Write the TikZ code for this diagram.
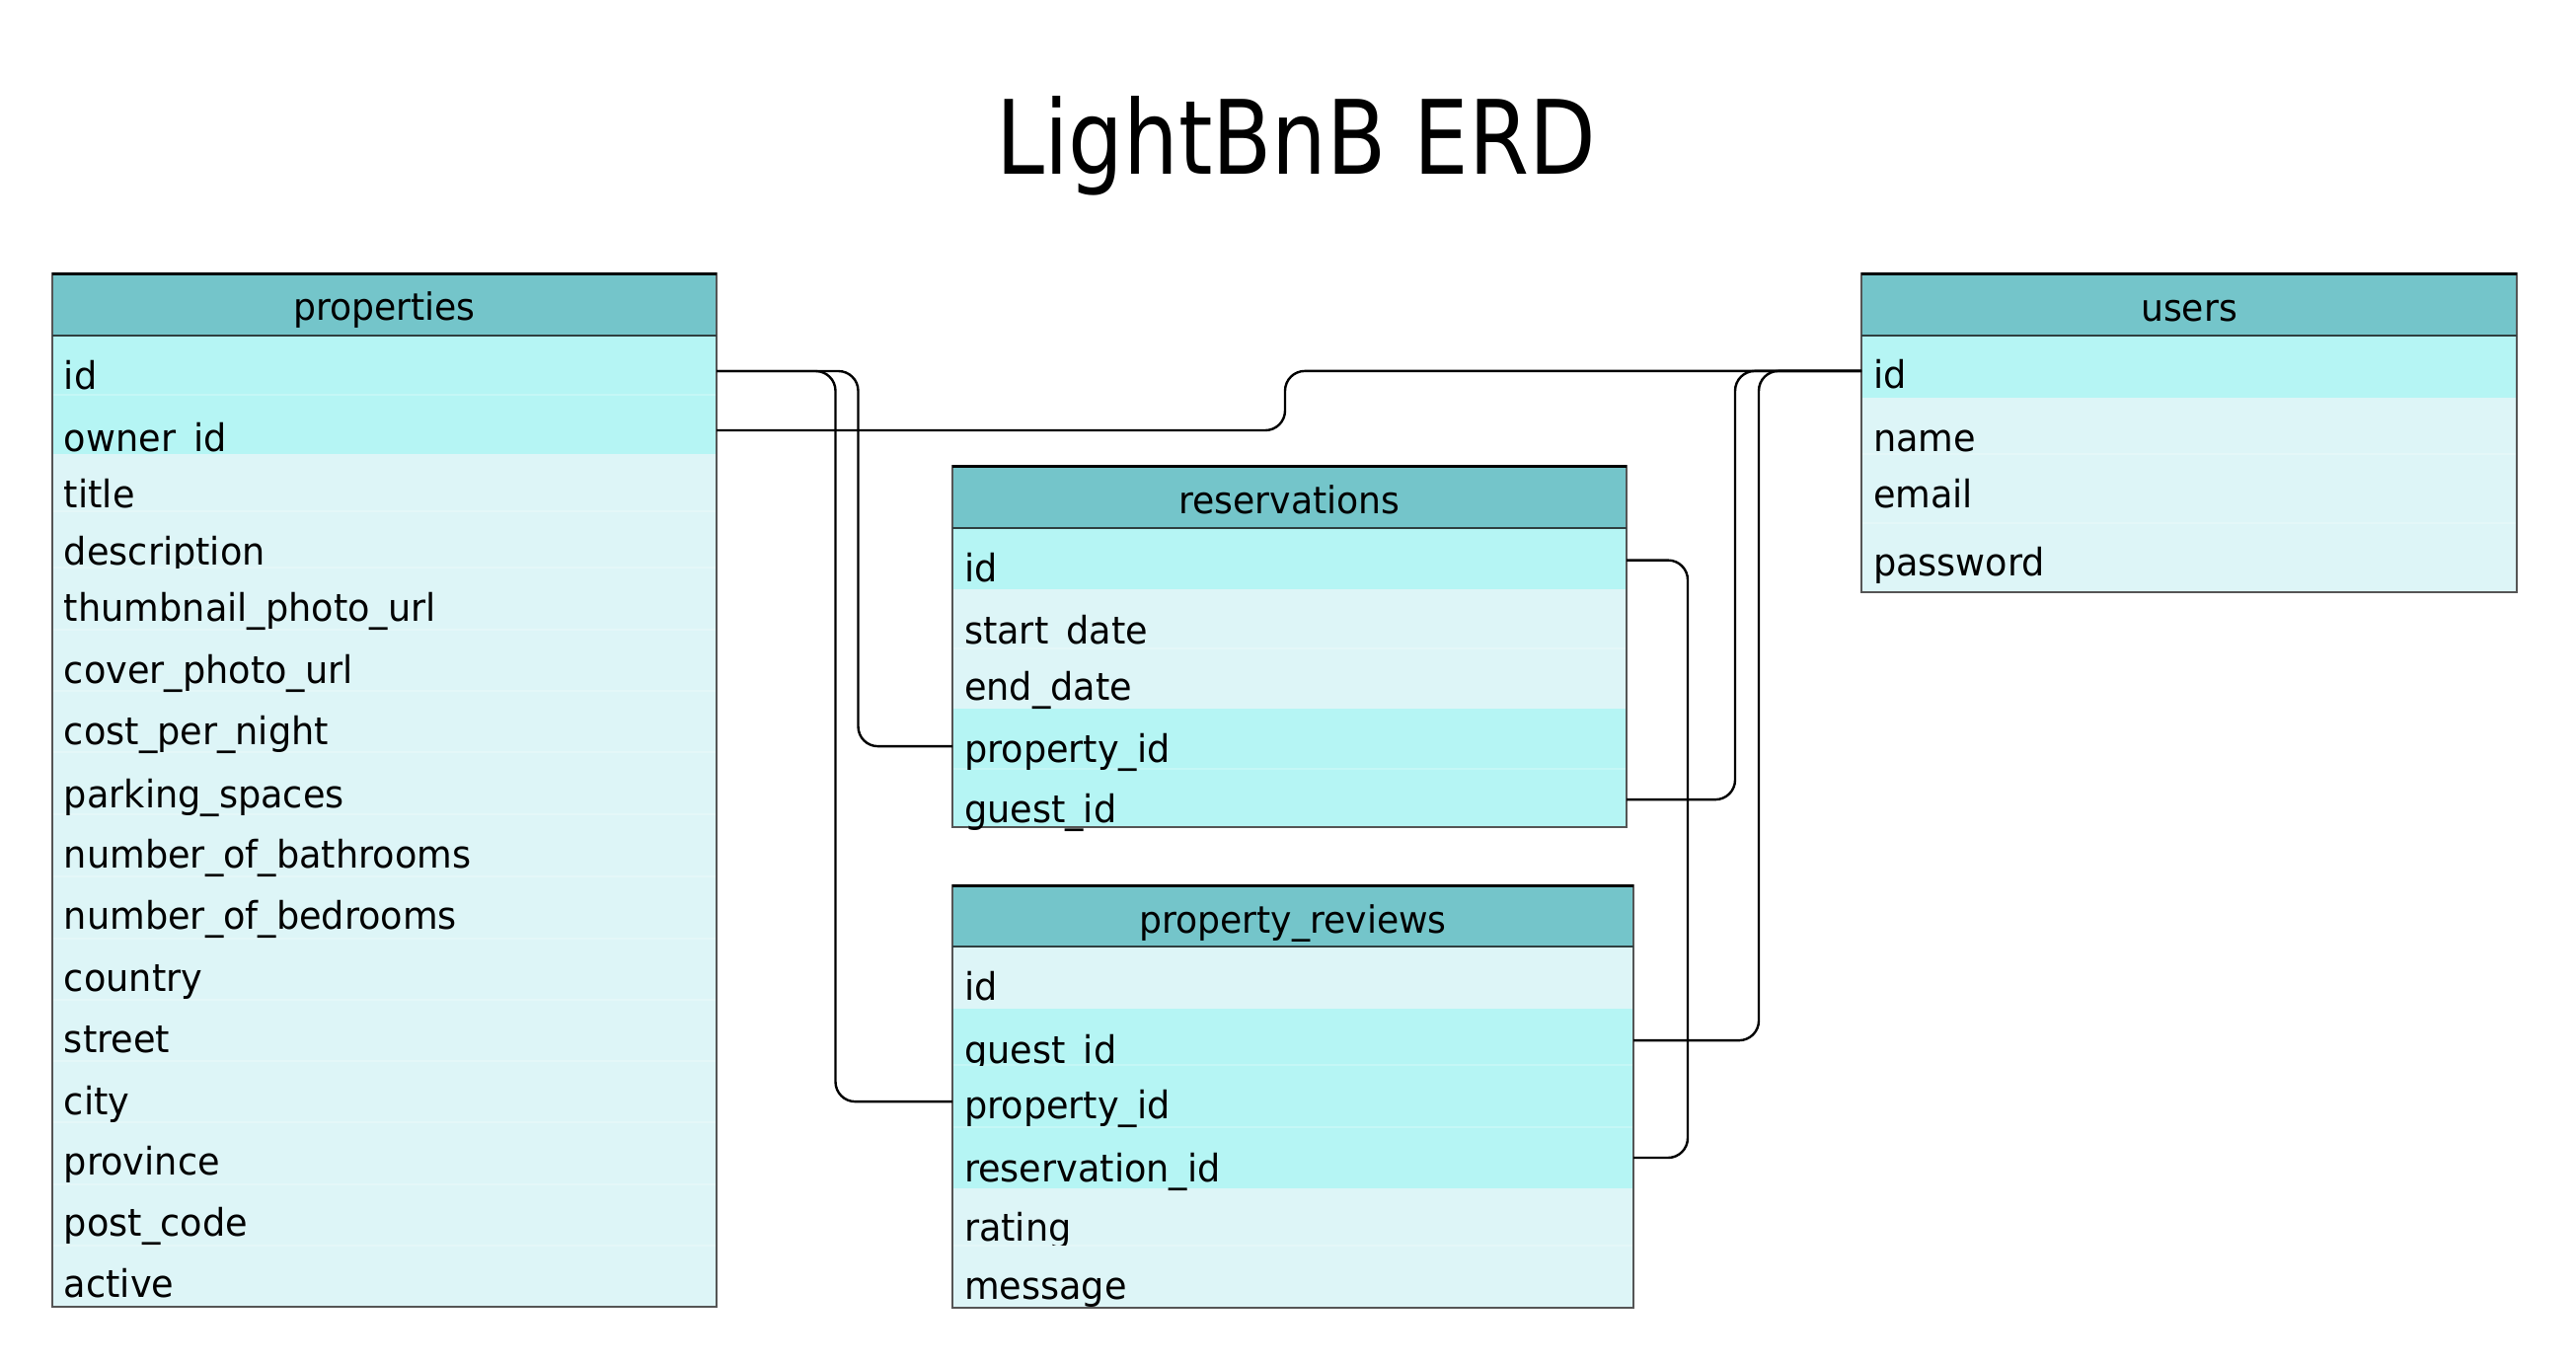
\documentclass[tikz,border=0pt]{standalone}
\usepackage{fontspec}
\setmainfont{DejaVu Sans}[FakeStretch=0.952]
\newfontfamily\titlefont{DejaVu Sans}[FakeStretch=0.845]
\usetikzlibrary{fit}
\definecolor{hdr}{HTML}{74C5CA}
\definecolor{hi}{HTML}{B5F5F4}
\definecolor{lo}{HTML}{DDF5F7}
\definecolor{bord}{HTML}{555555}
\definecolor{hbord}{HTML}{2F3F40}
\newcommand{\erow}[6]{\node[rowbox, fill=#6, fit={(#2,#4) (#3,#5)}] (#1) {};}
\newcommand{\etxt}[4]{\node[field] (#1) at (#2,#3) {#4};}
\newcommand{\ctxt}[8]{\begin{scope}\clip (#5,#6) rectangle (#7,#8); \node[field] (#1) at (#2,#3) {#4};\end{scope}}
\newcommand{\tblframe}[5]{%
  \draw[outline] (#1,#3) rectangle (#2,#5);
  \draw[hline] (#1,#4) -- (#2,#4);
  \draw[topedge] (#1,#3) -- (#2,#3);}
\begin{document}
\begin{tikzpicture}[x=0.25pt, y=-0.25pt,
  rowbox/.style={inner sep=0pt, outer sep=0pt, draw=none},
  field/.style={font=\fontsize{9.625pt}{11pt}\selectfont, inner sep=0pt, outer sep=0pt, anchor=base west, text=black},
  htext/.style={font=\fontsize{9.5pt}{11pt}\selectfont, inner sep=0pt, outer sep=0pt, anchor=base, text=black},
  outline/.style={draw=bord, line width=0.5pt},
  topedge/.style={draw=black, line width=0.75pt},
  hline/.style={draw=hbord, line width=0.5pt},
  sep/.style={draw=white, draw opacity=0.22, line width=0.4pt},
  conn/.style={draw=black, line width=0.6pt, rounded corners=5pt},
]
\useasboundingbox[fill=white] (0,0) rectangle (2610,1382);

% title
\node[font=\titlefont\fontsize{26pt}{31pt}\selectfont, anchor=base, inner sep=0pt] (title) at (1313,176) {LightBnB ERD};

% ---------------- properties ----------------
\erow{properties}{53}{726}{277}{340}{hdr}
\erow{pid}{53}{726}{340}{400}{hi}
\erow{powner}{53}{726}{400}{460}{hi}
\erow{ptitle}{53}{726}{460}{518}{lo}
\erow{pdesc}{53}{726}{518}{575}{lo}
\erow{pthumb}{53}{726}{575}{638}{lo}
\erow{pcover}{53}{726}{638}{700}{lo}
\erow{pcost}{53}{726}{700}{762}{lo}
\erow{ppark}{53}{726}{762}{825}{lo}
\erow{pbath}{53}{726}{825}{888}{lo}
\erow{pbed}{53}{726}{888}{951}{lo}
\erow{pcountry}{53}{726}{951}{1013}{lo}
\erow{pstreet}{53}{726}{1013}{1075}{lo}
\erow{pcity}{53}{726}{1075}{1137}{lo}
\erow{pprov}{53}{726}{1137}{1200}{lo}
\erow{ppost}{53}{726}{1200}{1262}{lo}
\erow{pactive}{53}{726}{1262}{1324}{lo}
\foreach \y in {400,518,575,638,700,762,825,888,951,1013,1075,1137,1200,1262}
  \draw[sep] (53,\y) -- (726,\y);
\tblframe{53}{726}{277}{340}{1324}

% ---------------- reservations ----------------
\erow{reservations}{965}{1648}{472}{535}{hdr}
\erow{rid}{965}{1648}{535}{597}{hi}
\erow{rstart}{965}{1648}{597}{657}{lo}
\erow{rend}{965}{1648}{657}{718}{lo}
\erow{rpid}{965}{1648}{718}{779}{hi}
\erow{rgid}{965}{1648}{779}{838}{hi}
\foreach \y in {657,779}
  \draw[sep] (965,\y) -- (1648,\y);
\tblframe{965}{1648}{472}{535}{838}

% ---------------- property_reviews ----------------
\erow{reviews}{965}{1655}{897}{959}{hdr}
\erow{vid}{965}{1655}{959}{1022}{lo}
\erow{vgid}{965}{1655}{1022}{1079}{hi}
\erow{vpid}{965}{1655}{1079}{1142}{hi}
\erow{vrid}{965}{1655}{1142}{1204}{hi}
\erow{vrating}{965}{1655}{1204}{1262}{lo}
\erow{vmsg}{965}{1655}{1262}{1325}{lo}
\foreach \y in {1079,1142,1262}
  \draw[sep] (965,\y) -- (1655,\y);
\tblframe{965}{1655}{897}{959}{1325}

% ---------------- users ----------------
\erow{users}{1886}{2550}{277}{340}{hdr}
\erow{uid}{1886}{2550}{340}{403}{hi}
\erow{uname}{1886}{2550}{403}{460}{lo}
\erow{uemail}{1886}{2550}{460}{530}{lo}
\erow{upass}{1886}{2550}{530}{600}{lo}
\foreach \y in {460,530}
  \draw[sep] (1886,\y) -- (2550,\y);
\tblframe{1886}{2550}{277}{340}{600}

% header texts
\node[htext] (properties-t) at (389.5,324) {properties};
\node[htext] (reservations-t) at (1306.5,520) {reservations};
\node[htext] (reviews-t) at (1310,945) {property\_reviews};
\node[htext] (users-t) at (2218,325) {users};

% properties fields
\etxt{t-pid}{65}{394}{id}
\ctxt{t-powner}{65}{457}{owner\_id}{53}{400}{726}{460}
\etxt{t-ptitle}{65}{514}{title}
\ctxt{t-pdesc}{65}{572}{description}{53}{518}{726}{575}
\etxt{t-pthumb}{65}{629}{thumbnail\_photo\_url}
\etxt{t-pcover}{65}{692}{cover\_photo\_url}
\etxt{t-pcost}{65}{754}{cost\_per\_night}
\etxt{t-ppark}{65}{818}{parking\_spaces}
\etxt{t-pbath}{65}{879}{number\_of\_bathrooms}
\etxt{t-pbed}{65}{941}{number\_of\_bedrooms}
\etxt{t-pcountry}{65}{1004}{country}
\etxt{t-pstreet}{65}{1066}{street}
\etxt{t-pcity}{65}{1129}{city}
\etxt{t-pprov}{65}{1190}{province}
\etxt{t-ppost}{65}{1252}{post\_code}
\etxt{t-pactive}{65}{1314}{active}

% reservations fields
\etxt{t-rid}{977}{589}{id}
\ctxt{t-rstart}{977}{652}{start\_date}{965}{597}{1648}{657}
\etxt{t-rend}{977}{709}{end\_date}
\etxt{t-rpid}{977}{772}{property\_id}
\etxt{t-rgid}{977}{833}{guest\_id}

% property_reviews fields
\etxt{t-vid}{977}{1013}{id}
\ctxt{t-vgid}{977}{1077}{guest\_id}{965}{1022}{1655}{1079}
\etxt{t-vpid}{977}{1133}{property\_id}
\etxt{t-vrid}{977}{1197}{reservation\_id}
\ctxt{t-vrating}{977}{1257}{rating}{965}{1204}{1655}{1261}
\etxt{t-vmsg}{977}{1316}{message}

% users fields
\etxt{t-uid}{1898}{393}{id}
\etxt{t-uname}{1898}{457}{name}
\etxt{t-uemail}{1898}{514}{email}
\etxt{t-upass}{1898}{583}{password}

% ---------------- connectors ----------------
\draw[conn] ([yshift=-1.5pt]pid.east) -- ++(143.5,0) |- ([yshift=-1.9pt]rpid.west);
\draw[conn] ([yshift=-1.5pt]pid.east) -- ++(120.5,0) |- ([yshift=-1.4pt]vpid.west);
\draw[conn] ([yshift=-1.5pt]powner.east) -- ++(576,0) |- ([yshift=-1.1pt]uid.west);
\draw[conn] ([yshift=-1.1pt]uid.west) -- ++(-128,0) |- ([yshift=-0.4pt]rgid.east);
\draw[conn] ([yshift=-1.1pt]uid.west) -- ++(-104,0) |- ([yshift=-0.9pt]vgid.east);
\draw[conn] ([yshift=-0.4pt]rid.east) -- ++(62,0) |- (vrid.east);
\end{tikzpicture}
\end{document}
